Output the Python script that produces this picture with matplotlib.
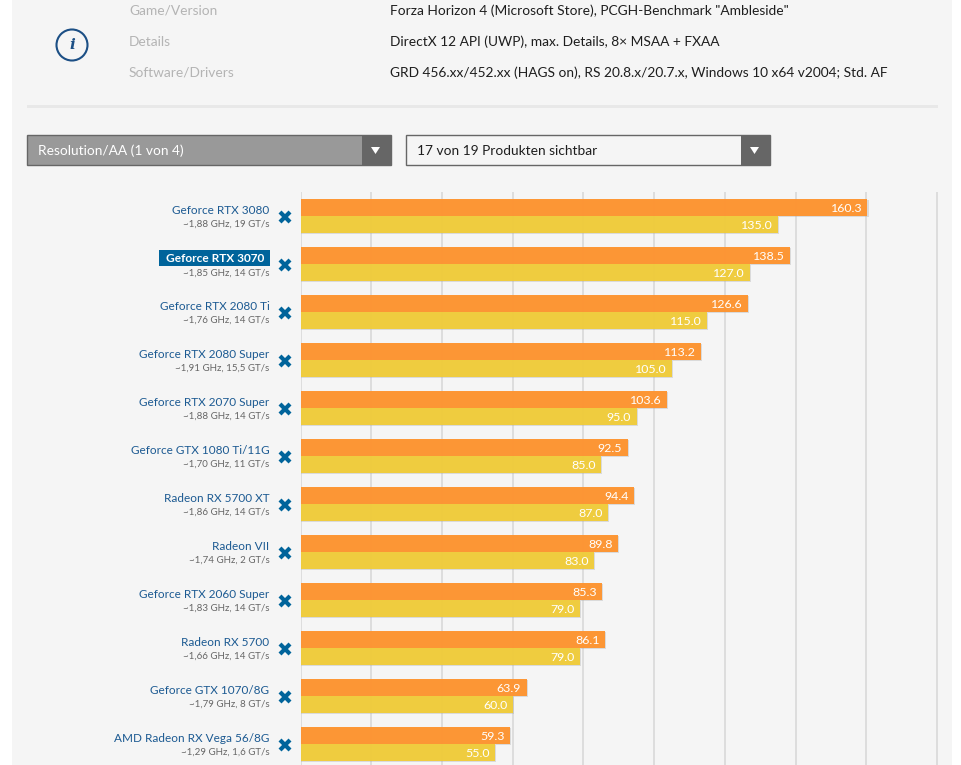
import matplotlib
matplotlib.use("Agg")
import matplotlib.pyplot as plt
from matplotlib.patches import Rectangle, Circle, Polygon

plt.rcParams['font.family'] = ['Lato', 'DejaVu Sans']

products = ["Geforce RTX 3080", "Geforce RTX 3070", "Geforce RTX 2080 Ti", "Geforce RTX 2080 Super",
            "Geforce RTX 2070 Super", "Geforce GTX 1080 Ti/11G", "Radeon RX 5700 XT", "Radeon VII",
            "Geforce RTX 2060 Super", "Radeon RX 5700", "Geforce GTX 1070/8G", "AMD Radeon RX Vega 56/8G"]
specs = ["~1,88 GHz, 19 GT/s", "~1,85 GHz, 14 GT/s", "~1,76 GHz, 14 GT/s", "~1,91 GHz, 15,5 GT/s",
         "~1,88 GHz, 14 GT/s", "~1,70 GHz, 11 GT/s", "~1,86 GHz, 14 GT/s", "~1,74 GHz, 2 GT/s",
         "~1,83 GHz, 14 GT/s", "~1,66 GHz, 14 GT/s", "~1,79 GHz, 8 GT/s", "~1,29 GHz, 1,6 GT/s"]
avg_fps = [160.3, 138.5, 126.6, 113.2, 103.6, 92.5, 94.4, 89.8, 85.3, 86.1, 63.9, 59.3]
min_fps = [135.0, 127.0, 115.0, 105.0, 95.0, 85.0, 87.0, 83.0, 79.0, 79.0, 60.0, 55.0]
highlight = "Geforce RTX 3070"
info_keys = ["Game/Version", "Details", "Software/Drivers"]
info_vals = ['Forza Horizon 4 (Microsoft Store), PCGH-Benchmark "Ambleside"',
             "DirectX 12 API (UWP), max. Details, 8× MSAA + FXAA",
             "GRD 456.xx/452.xx (HAGS on), RS 20.8.x/20.7.x, Windows 10 x64 v2004; Std. AF"]
grid_ticks = [0, 20, 40, 60, 80, 100, 120, 140, 160, 180]

W, H = 961, 765
BLUE = "#1c5a92"
fig = plt.figure(figsize=(W / 100, H / 100), dpi=100, facecolor="white")

# page chrome in pixel coordinates
bg = fig.add_axes([0, 0, 1, 1])
bg.set_xlim(0, W); bg.set_ylim(H, 0); bg.axis("off")
bg.add_patch(Rectangle((12, 0), 940, H, fc="#f5f5f5", ec="none"))
for key, val, y in zip(info_keys, info_vals, [10.5, 41.8, 72.5]):
    bg.text(129, y, key, fontsize=9.9, color="#b4b4b4", va="center")
    bg.text(390, y, val, fontsize=9.9, color="#1e1e1e", va="center")
bg.add_patch(Circle((72, 45), 15.5, fc="none", ec="#1c4f85", lw=1.5))
bg.text(72, 45, "i", fontsize=11, color="#1c4f85", family="DejaVu Serif", style="italic",
        weight="bold", ha="center", va="center")
bg.add_patch(Rectangle((27, 105), 911, 2.5, fc="#e8e8e8", ec="none"))

bg.add_patch(Rectangle((27, 135), 363.5, 29.5, fc="#999999", ec="#666666", lw=1))
bg.add_patch(Rectangle((362, 135), 29, 30, fc="#666666", ec="none"))
bg.text(38, 151, "Resolution/AA (1 von 4)", fontsize=9.9, color="white", va="center")
bg.add_patch(Polygon([(371, 147), (380, 147), (375.5, 154)], fc="white", ec="none"))
bg.add_patch(Rectangle((406, 135), 363.5, 29.5, fc="#f5f5f5", ec="#666666", lw=1))
bg.add_patch(Rectangle((741, 135), 29, 30, fc="#666666", ec="none"))
bg.text(417, 151, "17 von 19 Produkten sichtbar", fontsize=9.9, color="#1e1e1e", va="center")
bg.add_patch(Polygon([(750, 147), (759, 147), (754.5, 154)], fc="white", ec="none"))

# chart axes: 300..937 px horizontally, 192..765 px vertically
ax = fig.add_axes([300.5 / W, 0, 637 / W, (H - 192) / H])
ax.patch.set_alpha(0)
ax.set_xlim(0, 637 / 3.537)
ax.set_ylim(11.4375, -0.5)
ax.set_xticks(grid_ticks)
ax.set_yticks([])
ax.tick_params(length=0, labelbottom=False)
for s in ax.spines.values():
    s.set_visible(False)
ax.grid(axis="x", color="#d9d9d9", lw=1.2)
ax.set_axisbelow(True)

rows = list(range(len(products)))
bh = 17 / 48
ax.barh([r - bh / 2 + 0.03 for r in rows], [v + 0.3 for v in avg_fps], height=bh, color="#a8a8a8", alpha=0.35, zorder=1)
ax.barh([r + bh / 2 + 0.03 for r in rows], [v + 0.3 for v in min_fps], height=bh, color="#a8a8a8", alpha=0.35, zorder=1)
ax.barh([r - bh / 2 for r in rows], avg_fps, height=bh, color="#fe9430", alpha=0.97, zorder=2)
ax.barh([r + bh / 2 for r in rows], min_fps, height=bh, color="#f0cc3a", alpha=0.97, zorder=2)
for r, a, m in zip(rows, avg_fps, min_fps):
    ax.text(a - 1.5, r - bh / 2 + 0.03, f"{a:.1f}", color="white", fontsize=8.9, ha="right", va="center", zorder=3)
    ax.text(m - 1.5, r + bh / 2 + 0.03, f"{m:.1f}", color="white", fontsize=8.9, ha="right", va="center", zorder=3)

# row labels in pixel coordinates
for r, name, spec in zip(rows, products, specs):
    yc = 216 + 48 * r
    if name == highlight:
        bg.add_patch(Rectangle((159, yc - 14), 111, 16, fc="#00649b", ec="none"))
        bg.text(264.5, yc - 5.5, name, fontsize=8.6, color="white", weight="bold", ha="right", va="center")
        bg.text(269.5, yc + 9, spec, fontsize=7, color="#666666", ha="right", va="center")
    else:
        bg.text(269.5, yc - 5.5, name, fontsize=8.5, color=BLUE, ha="right", va="center")
        bg.text(269.5, yc + 8.5, spec, fontsize=7, color="#666666", ha="right", va="center")
    bg.plot([285], [yc + 1], marker="x", ms=7.5, mew=3, color="#00649b", ls="none")

fig.savefig("out.png", dpi=100, facecolor="white")
